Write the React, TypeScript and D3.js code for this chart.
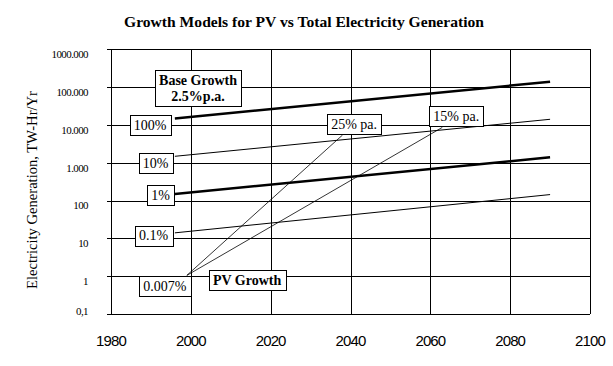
import React, { useRef, useEffect } from "react";
import * as d3 from "d3";

const W = 613;
const H = 366;

const baseYears = [1996, 2090];
const total100 = [14800, 139000];
const share10 = [1480, 14100];
const share1 = [150, 1390];
const share01 = [14, 144];

const pv25Years = [1999, 2038];
const pv25 = [1.05, 5400];
const pv15Years = [1999, 2063];
const pv15 = [1.05, 8600];

const xTicks = [1980, 2000, 2020, 2040, 2060, 2080, 2100];
const yTicks = [0.1, 1, 10, 100, 1000, 10000, 100000, 1000000];
const yTickLabels = ["0,1", "1", "10", "100", "1.000", "10.000", "100.000", "1000.000"];

const annoText = ["100%", "10%", "1%", "0.1%", "0.007%", "PV Growth", "25% pa.", "15% pa."];
const annoYear = [1989.8, 1991.2, 1992.4, 1990.7, 1993.5, 2014.1, 2040.9, 2066.5];
const annoValue = [9820, 1000, 142, 11.9, 0.56, 0.8, 10600, 17200];
const annoBold = [false, false, false, false, false, true, false, false];

const baseLabelLines = ["Base Growth", "2.5%p.a."];
const baseLabelYear = 2001.8;
const baseLabelValue = 94700;

export default function App() {
  const ref = useRef<SVGSVGElement>(null);

  useEffect(() => {
    const svg = d3.select(ref.current);
    svg.selectAll("*").remove();

    const x = d3.scaleLinear().domain([1980, 2100]).range([111, 590]);
    const y = d3.scaleLog().domain([0.1, 1000000]).range([314, 49.3]);

    const serif = "'Liberation Serif', 'Times New Roman', serif";
    const sans = "'Liberation Sans', Arial, sans-serif";

    // title
    svg.append("text")
      .attr("x", 304).attr("y", 27)
      .attr("text-anchor", "middle")
      .attr("font-family", serif).attr("font-weight", "bold").attr("font-size", 15.6)
      .text("Growth Models for PV vs Total Electricity Generation");

    const grid = svg.append("g").attr("shape-rendering", "crispEdges").attr("stroke", "#000").attr("stroke-width", 1);
    yTicks.forEach((v) => {
      grid.append("line")
        .attr("x1", x(1980) - 4).attr("x2", x(2100))
        .attr("y1", Math.round(y(v)) + 0.5).attr("y2", Math.round(y(v)) + 0.5);
    });
    xTicks.forEach((t) => {
      grid.append("line")
        .attr("x1", Math.round(x(t)) + 0.5).attr("x2", Math.round(x(t)) + 0.5)
        .attr("y1", y(1000000)).attr("y2", y(0.1));
    });

    // y tick labels
    yTicks.forEach((v, i) => {
      svg.append("text")
        .attr("x", 88).attr("y", y(v) + (i === 0 ? -3 : 5))
        .attr("dy", "0.35em")
        .attr("text-anchor", "end")
        .attr("font-family", serif).attr("font-size", 11)
        .attr("letter-spacing", -0.6)
        .text(yTickLabels[i]);
    });

    // x tick labels
    xTicks.forEach((t) => {
      svg.append("text")
        .attr("x", x(t)).attr("y", 345.5)
        .attr("text-anchor", "middle")
        .attr("font-family", sans).attr("font-size", 15)
        .attr("letter-spacing", -0.9)
        .text(String(t));
    });

    // y axis title
    svg.append("text")
      .attr("transform", `translate(37,190) rotate(-90)`)
      .attr("text-anchor", "middle")
      .attr("font-family", serif).attr("font-size", 14.6)
      .text("Electricity Generation, TW-Hr/Yr");

    const line = d3.line<[number, number]>().x((d) => x(d[0])).y((d) => y(d[1]));
    const series: { years: number[]; vals: number[]; w: number }[] = [
      { years: baseYears, vals: total100, w: 2.5 },
      { years: baseYears, vals: share10, w: 1 },
      { years: baseYears, vals: share1, w: 2.5 },
      { years: baseYears, vals: share01, w: 1 },
      { years: pv25Years, vals: pv25, w: 0.8 },
      { years: pv15Years, vals: pv15, w: 0.8 },
    ];
    series.forEach((s) => {
      const pts = s.years.map((yr, i) => [yr, s.vals[i]] as [number, number]);
      svg.append("path")
        .attr("d", line(pts))
        .attr("fill", "none").attr("stroke", "#000").attr("stroke-width", s.w);
    });

    // annotation boxes
    annoText.forEach((t, i) => {
      const g = svg.append("g");
      const cx = x(annoYear[i]);
      const cy = y(annoValue[i]);
      const rect = g.append("rect").attr("fill", "#fff").attr("stroke", "#000").attr("stroke-width", 1)
        .attr("shape-rendering", "crispEdges");
      const txt = g.append("text")
        .attr("x", cx).attr("y", cy).attr("dy", "0.35em")
        .attr("text-anchor", "middle")
        .attr("font-family", serif).attr("font-size", 14)
        .attr("font-weight", annoBold[i] ? "bold" : "normal")
        .text(t);
      const bb = (txt.node() as SVGTextElement).getBBox();
      rect.attr("x", Math.round(bb.x - 4) + 0.5).attr("y", Math.round(cy - 10) + 0.5)
        .attr("width", Math.round(bb.width + 8)).attr("height", 20);
    });

    // base growth label
    {
      const g = svg.append("g");
      const cx = x(baseLabelYear);
      const cy = y(baseLabelValue);
      const rect = g.append("rect").attr("fill", "#fff").attr("stroke", "#000").attr("stroke-width", 1)
        .attr("shape-rendering", "crispEdges");
      const txt = g.append("text")
        .attr("text-anchor", "middle")
        .attr("font-family", serif).attr("font-size", 14).attr("font-weight", "bold");
      baseLabelLines.forEach((l, i) => {
        txt.append("tspan").attr("x", cx).attr("y", cy + (i === 0 ? -8 : 8)).attr("dy", "0.35em").text(l);
      });
      const bb = (txt.node() as SVGTextElement).getBBox();
      rect.attr("x", Math.round(bb.x - 4) + 0.5).attr("y", Math.round(cy - 18) + 0.5)
        .attr("width", Math.round(bb.width + 8)).attr("height", 36);
    }
  }, []);

  return (
    <svg ref={ref} width={W} height={H} style={{ position: "absolute", left: 0, top: 0, background: "#fff" }} />
  );
}
